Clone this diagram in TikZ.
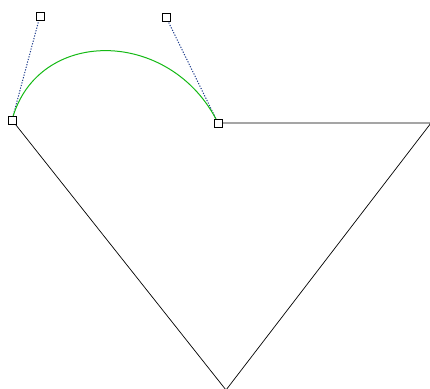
\documentclass[tikz,border=0pt]{standalone}
\usepackage{xcolor}
\definecolor{curvegreen}{RGB}{20, 185, 20}
\definecolor{handleblue}{RGB}{30, 60, 140}
\usetikzlibrary{calc}

\begin{document}
\begin{tikzpicture}[
  x=1pt, y=-1pt,
  handle/.style={draw=black, fill=white, minimum size=8pt, inner sep=0pt, line width=0.8pt},
  edge/.style={draw=black, line width=0.7pt},
  guide/.style={draw=handleblue, dash pattern=on 1.2pt off 1.5pt, line width=1pt},
  curve/.style={draw=curvegreen, line width=1pt}
]
\useasboundingbox (0,0) rectangle (430,388);
% anchor points and polygon corners
\coordinate (start) at (12,120);
\coordinate (finish) at (218,123);
\coordinate (bottom) at (226,390);
\coordinate (corner) at (431,123);
\coordinate (ctrlA) at (40,16);
\coordinate (ctrlB) at (166,17);

\draw[edge] (start) -- (bottom) -- (corner) -- (finish);
\draw[guide] (start) -- (ctrlA);
\draw[guide] (finish) -- (ctrlB);
\draw[curve] (start) .. controls ($(start)!0.9!(ctrlA)$) and ($(finish)!0.9!(ctrlB)$) .. (finish);

% handles on top
\node[handle] (startbox) at (start) {};
\node[handle] (finishbox) at (finish) {};
\node[handle] (ctrlAbox) at (ctrlA) {};
\node[handle, line width=1pt] (ctrlBbox) at (ctrlB) {};
\end{tikzpicture}
\end{document}
